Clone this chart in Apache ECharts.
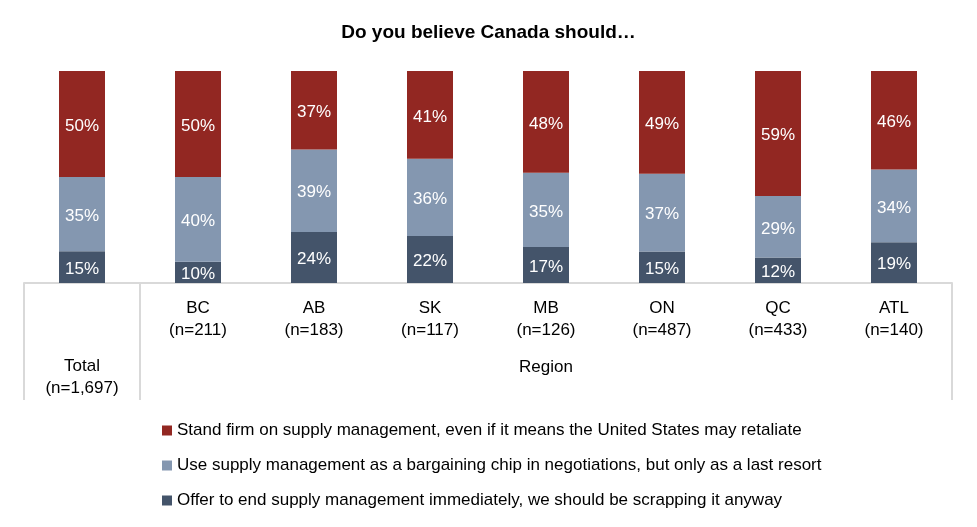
<!DOCTYPE html>
<html>
<head>
<meta charset="utf-8">
<script src="https://cdn.jsdelivr.net/npm/echarts@6/dist/echarts.min.js"></script>
<style>html,body{margin:0;padding:0;background:#fff;}#c{width:977px;height:527px;}</style>
</head>
<body>
<div id="c"></div>
<script>
var title = 'Do you believe Canada should\u2026';
var categories = ['Total', 'BC', 'AB', 'SK', 'MB', 'ON', 'QC', 'ATL'];
var sampleSizes = ['n=1,697', 'n=211', 'n=183', 'n=117', 'n=126', 'n=487', 'n=433', 'n=140'];
var groupLabel = 'Region';
var seriesNames = [
  'Stand firm on supply management, even if it means the United States may retaliate',
  'Use supply management as a bargaining chip in negotiations, but only as a last resort',
  'Offer to end supply management immediately, we should be scrapping it anyway'
];
var standFirm = [50, 50, 37, 41, 48, 49, 59, 46];
var bargaining = [35, 40, 39, 36, 35, 37, 29, 34];
var offerEnd  = [15, 10, 24, 22, 17, 15, 12, 19];
var colors = ['#922722', '#8497B0', '#44546A'];

var FONT = 'Liberation Sans';
var rowSums = categories.map(function (c, i) { return standFirm[i] + bargaining[i] + offerEnd[i]; });
function toData(arr) {
  return arr.map(function (v, i) { return { value: v / rowSums[i] * 100, raw: v }; });
}
var seriesValues = [standFirm, bargaining, offerEnd];
var stackOrder = [2, 1, 0];
var series = stackOrder.map(function (k) {
  return {
    name: seriesNames[k],
    type: 'bar',
    stack: 'all',
    barWidth: 46,
    itemStyle: { color: colors[k] },
    label: {
      show: true,
      position: 'inside',
      color: '#ffffff',
      fontFamily: FONT,
      fontSize: 17,
      offset: [0, 2],
      formatter: function (p) { return p.data.raw + '%'; }
    },
    data: toData(seriesValues[k])
  };
});

var chart = echarts.init(document.getElementById('c'));
chart.setOption({
  animation: false,
  backgroundColor: '#ffffff',
  title: {
    text: title,
    left: 'center',
    top: 18,
    textStyle: { fontFamily: FONT, fontSize: 19, fontWeight: 'bold', color: '#000' }
  },
  legend: {
    data: seriesNames,
    orient: 'vertical',
    left: 157,
    top: 417,
    itemWidth: 10,
    itemHeight: 10,
    itemGap: 18,
    icon: 'rect',
    selectedMode: false,
    textStyle: { fontFamily: FONT, fontSize: 17, color: '#000' }
  },
  grid: { left: 24, right: 25, top: 71, bottom: 244, containLabel: false },
  xAxis: {
    type: 'category',
    data: categories,
    axisLine: { lineStyle: { color: '#d9d9d9', width: 2 } },
    axisTick: {
      show: true,
      length: 117,
      lineStyle: { color: '#d9d9d9', width: 2 },
      interval: function (i) { return i === 0 || i === 1; }
    },
    axisLabel: {
      interval: 0,
      margin: 14,
      color: '#000',
      fontFamily: FONT,
      fontSize: 17,
      lineHeight: 22,
      formatter: function (v, i) {
        if (i === 0) return '{gap| }\n' + v + '\n(' + sampleSizes[i] + ')';
        return v + '\n(' + sampleSizes[i] + ')';
      },
      rich: { gap: { lineHeight: 58, fontSize: 17 } }
    }
  },
  yAxis: {
    type: 'value', min: 0, max: 100, show: false,
    splitLine: { show: false }
  },
  series: series
});

var p1 = chart.convertToPixel({ xAxisIndex: 0 }, categories[1]);
var p2 = chart.convertToPixel({ xAxisIndex: 0 }, categories[categories.length - 1]);
var yTop = chart.convertToPixel({ yAxisIndex: 0 }, 0);
chart.setOption({
  graphic: [{
    type: 'text',
    x: (p1 + p2) / 2,
    y: yTop + 84,
    style: { text: groupLabel, fontFamily: FONT, fontSize: 17, fill: '#000', align: 'center', verticalAlign: 'middle' }
  }]
});
</script>
</body>
</html>
